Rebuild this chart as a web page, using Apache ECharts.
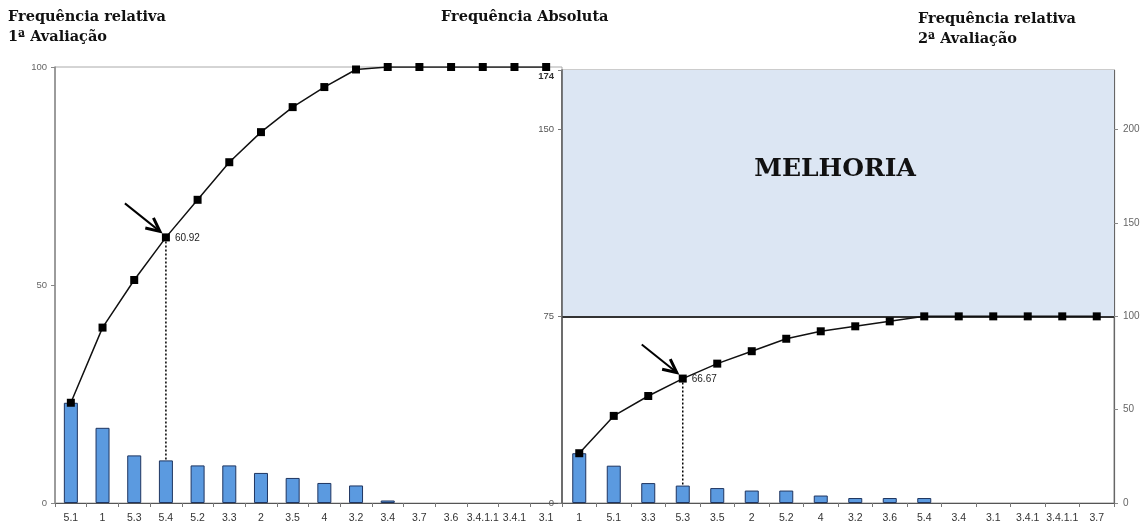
<!DOCTYPE html>
<html>
<head>
<meta charset="utf-8">
<script src="https://cdn.jsdelivr.net/npm/echarts@6/dist/echarts.min.js"></script>
<style>
html,body{margin:0;padding:0;background:#fff;}
#chart{width:1147px;height:528px;}
</style>
</head>
<body>
<div id="chart"></div>
<script>
// ---- Data ----
const leftCats = ['5.1','1','5.3','5.4','5.2','3.3','2','3.5','4','3.2','3.4','3.7','3.6','3.4.1.1','3.4.1','3.1'];
const leftCounts = [40,30,19,17,15,15,12,10,8,7,1,0,0,0,0,0];
const leftCumPct = [22.99,40.23,51.15,60.92,69.54,78.16,85.06,90.80,95.40,99.43,100,100,100,100,100,100];

const rightCats = ['1','5.1','3.3','5.3','3.5','2','5.2','4','3.2','3.6','5.4','3.4','3.1','3.4.1','3.4.1.1','3.7'];
const rightCounts = [20,15,8,7,6,5,5,3,2,2,2,0,0,0,0,0];
const rightCumPct = [26.67,46.67,57.33,66.67,74.67,81.33,88,92,94.67,97.33,100,100,100,100,100,100];

const leftPctTicks = [0,50,100];
const leftCountMax = 174;
const midCountTicks = [0,75,150,174];
const rightPctTicks = [0,50,100,150,200];
const rightPctMax = 232;
const targetCount = 75;

const leftMarkIndex = 3;   // 5.4 -> 60.92
const rightMarkIndex = 3;  // 5.3 -> 66.67

// ---- Chart ----
const chart = echarts.init(document.getElementById('chart'));
const sans = '"Liberation Sans", Arial, sans-serif';
const serif = '"DejaVu Serif", serif';
const barColor = '#5b9ae0';
const barBorder = '#1f3560';

// zero-count categories draw no bar
const noZero = arr => arr.map(v => (v === 0 ? null : v));

const xAxisCommon = {
  type: 'category',
  axisLine: {lineStyle: {color: '#555', width: 1.2}},
  axisTick: {show: true, length: 4, lineStyle: {color: '#777'}},
  axisLabel: {interval: 0, fontFamily: sans, fontSize: 10.5, color: '#333', margin: 10, hideOverlap: false},
  splitLine: {show: false}
};

const option = {
  animation: false,
  backgroundColor: '#fff',
  grid: [
    {left: 55, top: 67, width: 507, height: 436, show: true, borderColor: '#aaa', borderWidth: 1, outerBoundsMode: 'none'},
    {left: 562, top: 70, width: 552, height: 433, show: true, borderColor: '#999', borderWidth: 1, outerBoundsMode: 'none'}
  ],
  xAxis: [
    Object.assign({}, xAxisCommon, {gridIndex: 0, data: leftCats}),
    Object.assign({}, xAxisCommon, {gridIndex: 1, data: rightCats})
  ],
  yAxis: [
    { // 0: left relative %
      type: 'value', gridIndex: 0, min: 0, max: 100, position: 'left',
      axisLine: {show: true, lineStyle: {color: '#888', width: 1.5}},
      axisTick: {show: true, length: 4, customValues: leftPctTicks, lineStyle: {color: '#888'}},
      axisLabel: {customValues: leftPctTicks, fontFamily: sans, fontSize: 9.5, color: '#666', margin: 8},
      splitLine: {show: false}
    },
    { // 1: left counts (hidden)
      type: 'value', gridIndex: 0, min: 0, max: leftCountMax, show: false, splitLine: {show: false}
    },
    { // 2: middle absolute counts
      type: 'value', gridIndex: 1, min: 0, max: leftCountMax, position: 'left', z: 20,
      axisLine: {show: true, lineStyle: {color: '#555', width: 1.5}},
      axisTick: {show: true, length: 4, customValues: midCountTicks, lineStyle: {color: '#777'}},
      axisLabel: {customValues: midCountTicks, fontFamily: sans, fontSize: 9.5, color: '#555', margin: 8,
        formatter: v => (v === leftCountMax ? '{top|' + v + '}' : String(v)),
        rich: {top: {fontFamily: sans, fontSize: 9.5, color: '#333', fontWeight: 'bold', padding: [12, 0, 0, 0]}}},
      splitLine: {show: false}
    },
    { // 3: right relative %
      type: 'value', gridIndex: 1, min: 0, max: rightPctMax, position: 'right',
      axisLine: {show: true, lineStyle: {color: '#666', width: 1.2}},
      axisTick: {show: true, length: 4, customValues: rightPctTicks, lineStyle: {color: '#888'}},
      axisLabel: {customValues: rightPctTicks, fontFamily: sans, fontSize: 10, color: '#666', margin: 9},
      splitLine: {show: false}
    }
  ],
  series: [
    {
      type: 'bar', xAxisIndex: 0, yAxisIndex: 1, data: noZero(leftCounts), barWidth: 14,
      itemStyle: {color: barColor, borderColor: barBorder, borderWidth: 1}
    },
    {
      type: 'line', xAxisIndex: 0, yAxisIndex: 0, data: leftCumPct,
      symbol: 'rect', symbolSize: 8, z: 5,
      lineStyle: {color: '#111', width: 1.5}, itemStyle: {color: '#000'}
    },
    {
      type: 'bar', xAxisIndex: 1, yAxisIndex: 2, data: noZero(rightCounts), barWidth: 14,
      itemStyle: {color: barColor, borderColor: barBorder, borderWidth: 1},
      markArea: {
        silent: true,
        itemStyle: {color: '#dce6f3'},
        label: {show: true, position: 'inside', offset: [-3, -24], formatter: 'MELHORIA',
          fontFamily: serif, fontWeight: 'bold', fontSize: 25, color: '#111'},
        data: [[{yAxis: targetCount}, {yAxis: leftCountMax}]]
      },
      markLine: {
        silent: true, symbol: ['none','none'], label: {show: false},
        lineStyle: {color: '#333', width: 2, type: 'solid'},
        data: [{yAxis: targetCount}]
      }
    },
    {
      type: 'line', xAxisIndex: 1, yAxisIndex: 3, data: rightCumPct,
      symbol: 'rect', symbolSize: 8, z: 5,
      lineStyle: {color: '#111', width: 1.5}, itemStyle: {color: '#000'}
    }
  ]
};
chart.setOption(option);

// ---- Annotations computed from data positions ----
function arrowGraphics(tip) {
  const tail = [tip[0] - 41, tip[1] - 34];
  const end = [tip[0] - 6, tip[1] - 6];
  const dx = end[0] - tail[0], dy = end[1] - tail[1];
  const len = Math.sqrt(dx*dx + dy*dy);
  const ux = dx/len, uy = dy/len;
  const hl = 15, ang = Math.PI/7;
  const b1 = [end[0] - hl*(ux*Math.cos(ang) - uy*Math.sin(ang)), end[1] - hl*(uy*Math.cos(ang) + ux*Math.sin(ang))];
  const b2 = [end[0] - hl*(ux*Math.cos(-ang) - uy*Math.sin(-ang)), end[1] - hl*(uy*Math.cos(-ang) + ux*Math.sin(-ang))];
  return [
    {type: 'line', shape: {x1: tail[0], y1: tail[1], x2: end[0], y2: end[1]}, style: {stroke: '#000', lineWidth: 2}, z: 10},
    {type: 'polyline', shape: {points: [b1, end, b2]}, style: {stroke: '#000', lineWidth: 3, fill: null}, z: 10}
  ];
}

const gfx = [];
function annotate(lineSeries, barSeries, idx, cumArr, countArr) {
  const p = chart.convertToPixel({seriesIndex: lineSeries}, [idx, cumArr[idx]]);
  const b = chart.convertToPixel({seriesIndex: barSeries}, [idx, countArr[idx]]);
  gfx.push({type: 'line', shape: {x1: p[0], y1: p[1] + 4, x2: b[0], y2: b[1]},
    style: {stroke: '#000', lineWidth: 1.5, lineDash: [2, 2]}, z: 9});
  gfx.push({type: 'text', x: p[0] + 9, y: p[1] + 1, style: {text: cumArr[idx].toFixed(2),
    font: '10px ' + sans, fill: '#222', textVerticalAlign: 'middle'}, z: 10});
  arrowGraphics(p).forEach(g => gfx.push(g));
}
annotate(1, 0, leftMarkIndex, leftCumPct, leftCounts);
annotate(3, 2, rightMarkIndex, rightCumPct, rightCounts);

const titleFont = 'bold 14.5px ' + serif;
gfx.push({type: 'text', x: 8, y: 10, style: {text: 'Frequência relativa', font: titleFont, fill: '#111'}});
gfx.push({type: 'text', x: 8, y: 30, style: {text: '1ª Avaliação', font: titleFont, fill: '#111'}});
gfx.push({type: 'text', x: 441, y: 10, style: {text: 'Frequência Absoluta', font: titleFont, fill: '#111'}});
gfx.push({type: 'text', x: 918, y: 12, style: {text: 'Frequência relativa', font: titleFont, fill: '#111'}});
gfx.push({type: 'text', x: 918, y: 32, style: {text: '2ª Avaliação', font: titleFont, fill: '#111'}});

chart.setOption({graphic: gfx});
</script>
</body>
</html>
